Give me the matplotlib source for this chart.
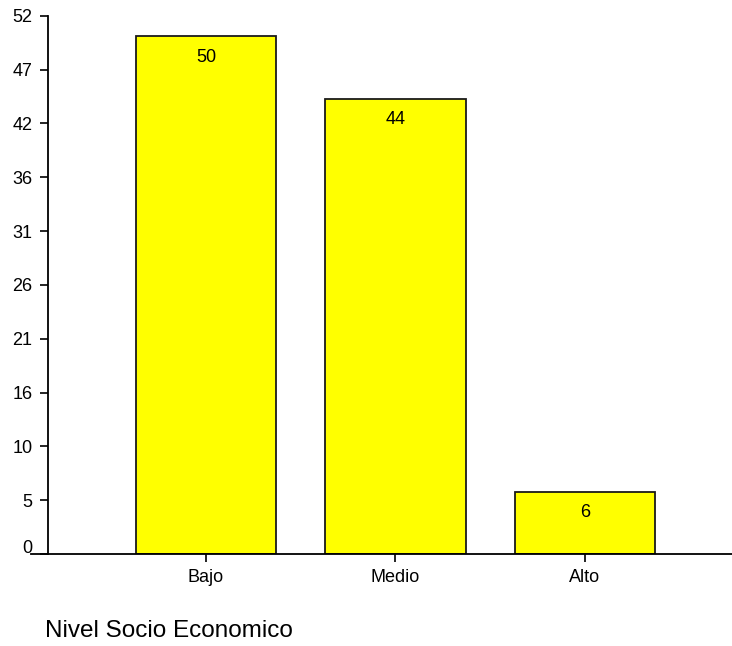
import matplotlib
matplotlib.use("Agg")
import matplotlib.pyplot as plt
from matplotlib.transforms import ScaledTranslation

# data
categories = ["Bajo", "Medio", "Alto"]
values = [50, 44, 6]
ytick_vals = [0, 5.2, 10.4, 15.6, 20.8, 26, 31.2, 36.4, 41.6, 46.8, 52]
ytick_labels = ["0", "5", "10", "16", "21", "26", "31", "36", "42", "47", "52"]

plt.rcParams['font.family'] = ['Liberation Sans', 'DejaVu Sans']

fig = plt.figure(figsize=(7.32, 6.46), dpi=100)
ax = fig.add_axes([0.0424, 0.1424, 0.9576, 0.8333])

x = list(range(len(categories)))
bars = ax.bar(x, values, width=0.74, color="#ffff00", edgecolor="#1a1a1a", linewidth=1.3)

# value labels inside top of bars
for xi, v in zip(x, values):
    ax.annotate(str(v), (xi, v), xytext=(0, -15), textcoords="offset points",
                ha="center", va="center", fontsize=13)

ax.spines['top'].set_visible(False)
ax.spines['right'].set_visible(False)
ax.spines['left'].set_position(('data', -0.834))
ax.spines['left'].set_linewidth(1.3)
ax.spines['bottom'].set_linewidth(1.3)
ax.tick_params(axis='both', length=6, width=1.2, pad=5, labelsize=13)

ax.set_xlim(-0.923, 2.776)
ax.set_ylim(0, 52)
ax.set_yticks(ytick_vals)
ax.set_yticklabels(ytick_labels)
ax.set_xticks(x)
ax.set_xticklabels(categories)

# the "0" label sits a bit above its tick in the original
zero_lbl = ax.get_yticklabels()[0]
zero_lbl.set_transform(zero_lbl.get_transform() + ScaledTranslation(0, 8 / 100, fig.dpi_scale_trans))

fig.text(0.062, 0.006, "Nivel Socio Economico", fontsize=17.5, ha="left", va="bottom")

plt.savefig("out.png", dpi=100)
